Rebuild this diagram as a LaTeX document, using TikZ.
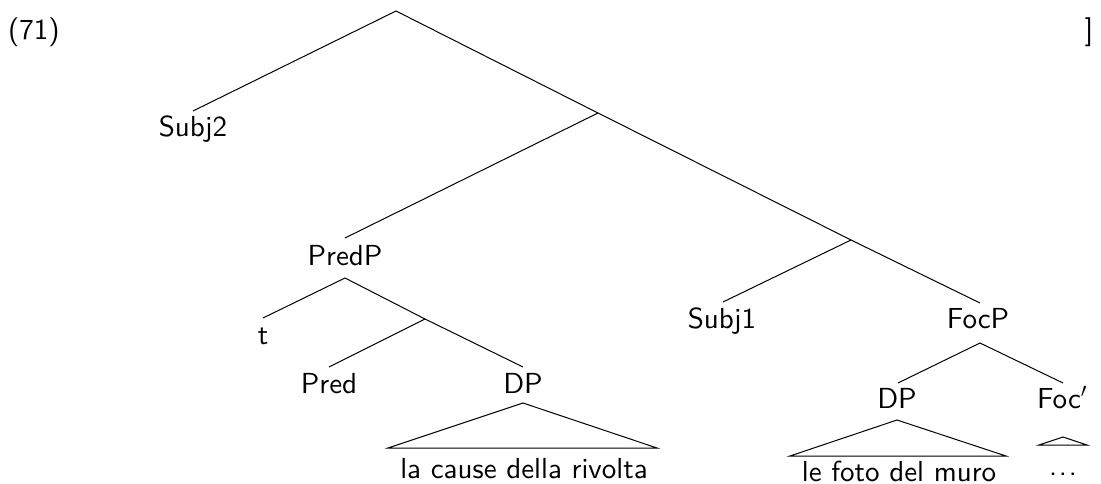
\documentclass[tikz,border=0pt]{standalone}
\usepackage{fix-cm}
\usepackage{fontspec}
\setsansfont{lmsans10-regular.otf}
\begin{document}
\begin{tikzpicture}[x=1pt,y=-1pt,
  lbl/.style={anchor=base,inner sep=0pt,font=\fontsize{29}{35}\selectfont\sffamily},
  branch/.style={line width=1pt,line join=miter},
  roof/.style={line width=1pt,line join=miter}]
\useasboundingbox (0,0) rectangle (1101,484);

% example number and closing bracket
\node[lbl,anchor=base west] (exnum) at (8,40) {(71)};
\node[lbl] (rbrack) at (1089,40) {]};

% branching points of the tree
\coordinate (root) at (396,11);
\coordinate (x1) at (598,113);
\coordinate (y1) at (851,240);
\coordinate (z1) at (425,319);

% Subj2
\coordinate (subjtwo-t) at (193,111);
\node[lbl] (subjtwo) at (193,137) {Subj2};

% PredP and its daughters
\coordinate (predp-t) at (345,238);
\node[lbl] (predp) at (345,265) {PredP};
\coordinate (predp-b) at (345,278);
\coordinate (tr-t) at (263,318);
\node[lbl] (tr) at (263,344) {t};
\coordinate (pred-t) at (329,367);
\node[lbl] (pred) at (329,393) {Pred};
\coordinate (dpa-t) at (523,367);
\node[lbl] (dpa) at (523,393) {DP};
\coordinate (dpa-b) at (523,403);
\coordinate (dpa-l) at (388,448);
\coordinate (dpa-r) at (657,448);
\node[lbl] (dpa-txt) at (524,478) {la cause della rivolta};

% Subj1 and FocP
\coordinate (subjone-t) at (723,302);
\node[lbl] (subjone) at (722,328) {Subj1};
\coordinate (focp-t) at (980,303);
\node[lbl] (focp) at (978,328) {FocP};
\coordinate (focp-b) at (980,343);
\coordinate (dpb-t) at (898,383);
\node[lbl] (dpb) at (897,408) {DP};
\coordinate (dpb-b) at (897,420);
\coordinate (dpb-l) at (790,456);
\coordinate (dpb-r) at (1006,456);
\node[lbl] (dpb-txt) at (899,481) {le foto del muro};
\coordinate (focbar-t) at (1063,383);
\node[lbl] (focbar) at (1062,408) {Foc$'$};
\coordinate (focbar-b) at (1063,437);
\coordinate (focbar-l) at (1039,445);
\coordinate (focbar-r) at (1087,445);
\node[lbl] (focbar-txt) at (1063,475) {.\kern.06em.\kern.06em.};

% branches
\draw[branch] (subjtwo-t) -- (root) -- (x1);
\draw[branch] (predp-t) -- (x1) -- (y1);
\draw[branch] (subjone-t) -- (y1) -- (focp-t);
\draw[branch] (tr-t) -- (predp-b) -- (z1);
\draw[branch] (pred-t) -- (z1) -- (dpa-t);
\draw[branch] (dpb-t) -- (focp-b) -- (focbar-t);

% roofs over unanalysed constituents
\draw[roof] (dpa-l) -- (dpa-b) -- (dpa-r) -- cycle;
\draw[roof] (dpb-l) -- (dpb-b) -- (dpb-r) -- cycle;
\draw[roof] (focbar-l) -- (focbar-b) -- (focbar-r) -- cycle;
\end{tikzpicture}
\end{document}
